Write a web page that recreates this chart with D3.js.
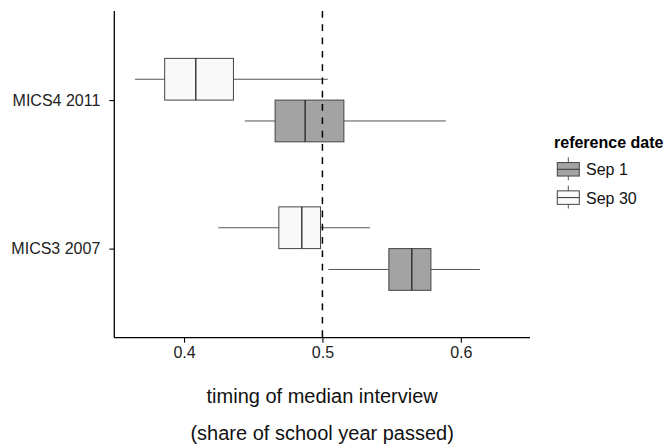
<!DOCTYPE html>
<html><head><meta charset="utf-8">
<script src="https://cdn.jsdelivr.net/npm/d3@7"></script>
<style>body{margin:0;background:#fff}svg{display:block;font-family:"Liberation Sans",Arial,sans-serif}</style>
</head><body><svg id="c" width="667" height="445"></svg>
<script>
const surveys = ["MICS4 2011", "MICS3 2007"];
const refDates = ["Sep 30", "Sep 1"];
const legendOrder = ["Sep 1", "Sep 30"];
// [whiskerLow, Q1, median, Q3, whiskerHigh]
const mics4Sep30 = [0.3646, 0.386, 0.4085, 0.4357, 0.5039];
const mics4Sep1  = [0.4439, 0.4658, 0.4875, 0.5155, 0.5892];
const mics3Sep30 = [0.4248, 0.4685, 0.4851, 0.4986, 0.5343];
const mics3Sep1  = [0.5043, 0.548, 0.5646, 0.5784, 0.6138];
const xTicks = [0.4, 0.5, 0.6];
const refLine = 0.5;
const xTitle = ["timing of median interview", "(share of school year passed)"];
const legendTitle = "reference date";
const fills = {"Sep 1": "#a3a3a3", "Sep 30": "#f9f9f9"};

const data = [
  {survey: surveys[0], ref: "Sep 30", v: mics4Sep30},
  {survey: surveys[0], ref: "Sep 1", v: mics4Sep1},
  {survey: surveys[1], ref: "Sep 30", v: mics3Sep30},
  {survey: surveys[1], ref: "Sep 1", v: mics3Sep1}
];

const svg = d3.select("#c");
const L = 114.3, R = 530, T = 11, B = 337.7;
const x = d3.scaleLinear().domain([0.3496, 0.65]).range([L, R]);
const y = d3.scalePoint().domain(surveys).range([T, B]).padding(0.6);
const half = 0.281 * y.step();
const sub = d3.scaleBand().domain(refDates).range([-half, half]);

const g = svg.append("g");
data.forEach(d => {
  const y0 = y(d.survey) + sub(d.ref), h = sub.bandwidth(), yc = y0 + h / 2;
  g.append("line").attr("x1", x(d.v[0])).attr("x2", x(d.v[1])).attr("y1", yc).attr("y2", yc)
    .attr("stroke", "#555").attr("stroke-width", 1);
  g.append("line").attr("x1", x(d.v[3])).attr("x2", x(d.v[4])).attr("y1", yc).attr("y2", yc)
    .attr("stroke", "#555").attr("stroke-width", 1);
  g.append("rect").attr("x", x(d.v[1])).attr("y", y0).attr("width", x(d.v[3]) - x(d.v[1])).attr("height", h)
    .attr("fill", fills[d.ref]).attr("stroke", "#444").attr("stroke-width", 1);
  g.append("line").attr("x1", x(d.v[2])).attr("x2", x(d.v[2])).attr("y1", y0).attr("y2", y0 + h)
    .attr("stroke", "#222").attr("stroke-width", 1.3);
});

svg.append("line").attr("x1", x(refLine)).attr("x2", x(refLine)).attr("y1", T).attr("y2", B)
  .attr("stroke", "#000").attr("stroke-width", 1.5).attr("stroke-dasharray", "6.7,6.6");

const xa = svg.append("g").attr("transform", `translate(0,${B})`)
  .call(d3.axisBottom(x).tickValues(xTicks).tickFormat(d3.format(".1f")).tickSizeOuter(0).tickSize(5).tickPadding(4));
const ya = svg.append("g").attr("transform", `translate(${L},0)`)
  .call(d3.axisLeft(y).tickSizeOuter(0).tickSize(5).tickPadding(9));
[xa, ya].forEach(a => {
  a.select(".domain").attr("stroke", "#000").attr("stroke-width", 1.3);
  a.selectAll(".tick line").attr("stroke", "#000").attr("stroke-width", 1.1);
  a.selectAll("text").attr("font-size", 16).attr("fill", "#222").attr("font-family", "Liberation Sans, Arial, sans-serif");
});
xa.select(".domain").attr("d", `M${L},0H${R}`);
ya.select(".domain").attr("d", `M0,${T}V${B}`);

svg.append("text").attr("x", (L + R) / 2).attr("y", 403).attr("text-anchor", "middle")
  .attr("font-size", 20).attr("fill", "#111").text(xTitle[0]);
svg.append("text").attr("x", (L + R) / 2).attr("y", 440).attr("text-anchor", "middle")
  .attr("font-size", 20).attr("fill", "#111").text(xTitle[1]);

const lg = svg.append("g");
lg.append("text").attr("x", 554).attr("y", 148).attr("font-size", 16).attr("font-weight", "bold").text(legendTitle);
legendOrder.forEach((k, i) => {
  const cy = 169.3 + i * 28.3, cx = 568.3, w = 22, h = 13.5;
  lg.append("line").attr("x1", cx).attr("x2", cx).attr("y1", cy - 12).attr("y2", cy + 11).attr("stroke", "#555");
  lg.append("rect").attr("x", cx - w / 2).attr("y", cy - h / 2).attr("width", w).attr("height", h)
    .attr("fill", fills[k]).attr("stroke", "#444");
  lg.append("line").attr("x1", cx - w / 2).attr("x2", cx + w / 2).attr("y1", cy).attr("y2", cy).attr("stroke", "#333");
  lg.append("text").attr("x", 586).attr("y", cy + 6).attr("font-size", 16).attr("fill", "#111").text(k);
});
</script></body></html>
